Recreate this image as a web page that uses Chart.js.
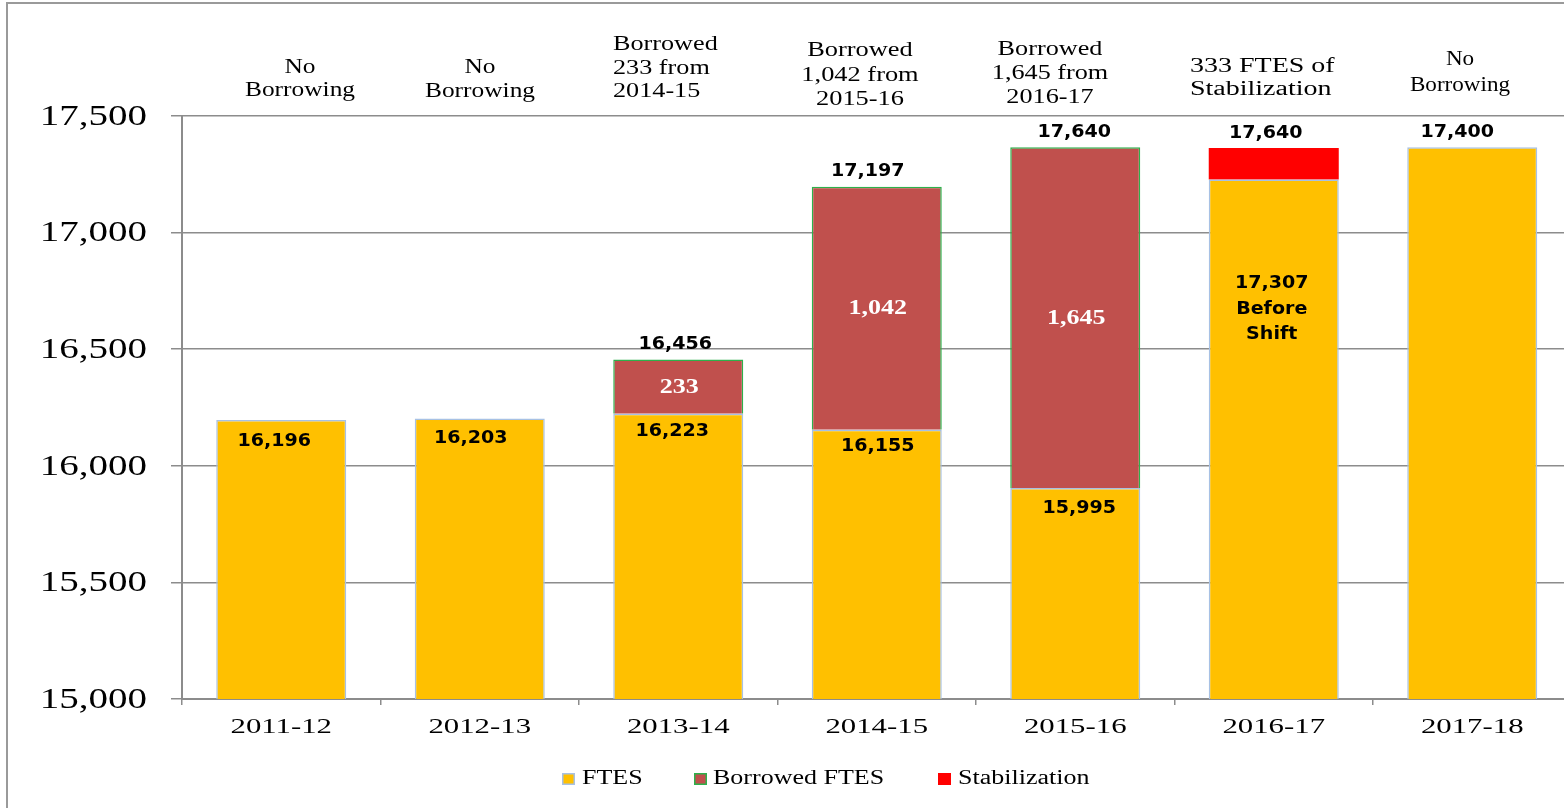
<!DOCTYPE html>
<html>
<head>
<meta charset="utf-8">
<title>FTES and Borrowing</title>
<script src="https://cdn.jsdelivr.net/npm/chart.js@4.4.0/dist/chart.umd.min.js"></script>
<style>
    html, body { margin: 0; padding: 0; background: #fff; overflow: hidden; }
    #wrap { position: relative; width: 1600px; height: 808px; }
</style>
</head>
<body>
<div id="wrap"><canvas id="ftesChart"></canvas></div>
<script>
// ---- data ----
const CATEGORIES = ['2011-12', '2012-13', '2013-14', '2014-15', '2015-16', '2016-17', '2017-18'];
const FTES = [16196, 16203, 16223, 16155, 15905, 17228, 17366];
const BORROWED = [null, null, 233, 1042, 1461, null, null];
const STABILIZATION = [null, null, null, null, null, 135, null];
const Y_TICKS = [15000, 15500, 16000, 16500, 17000, 17500];

const FTES_LABELS = ['16,196', '16,203', '16,223', '16,155', '15,995', '17,307\nBefore\nShift', ''];
const BORROWED_LABELS = ['', '', '233', '1,042', '1,645', '', ''];
const TOTAL_LABELS = ['', '', '16,456', '17,197', '17,640', '17,640', '17,400'];
const NOTES = [
    ['No', 'Borrowing'],
    ['No', 'Borrowing'],
    ['Borrowed', '233 from', '2014-15'],
    ['Borrowed', '1,042 from', '2015-16'],
    ['Borrowed', '1,645 from', '2016-17'],
    ['333 FTES of', 'Stabilization'],
    ['No', 'Borrowing'],
];

// ---- layout tweaks (label nudges, note placement) ----
const FTES_LABEL_DX = [-7, -9, -6, 1, 4, -2, 0];
const FTES_LABEL_DY = [21, 20, 18, 17, 20, 104, 0];
const TOTAL_LABEL_DX = [0, 0, -3, -9, -1, -8, -15];
const NOTE_POS = [
    { x: 300, ys: [68, 91], align: 'center', sx: 1.27, size: 20 },
    { x: 480, ys: [68, 92], align: 'center', sx: 1.27, size: 20 },
    { x: 613, ys: [45, 69, 92], align: 'left', sx: 1.31, size: 20 },
    { x: 860, ys: [51, 76, 100], align: 'center', sx: 1.32, size: 20 },
    { x: 1050, ys: [50, 74, 98], align: 'center', sx: 1.31, size: 20 },
    { x: 1190, ys: [67, 90], align: 'left', sx: 1.4, size: 20 },
    { x: 1460, ys: [59, 85], align: 'center', sx: 1.1, size: 21 },
];

const COLORS = {
    ftes: '#FFC000', ftesBorder: '#A7C1E4',
    borrowed: '#C0504D', borrowedBorder: '#2DB04B',
    stab: '#FF0000',
    grid: '#8c8c8c',
};

const SERIF = '"Liberation Serif", "Times New Roman", serif';
const SANS = '"DejaVu Sans", Verdana, sans-serif';

function drawStretched(ctx, text, x, y, font, color, sx, align) {
    ctx.save();
    ctx.font = font;
    ctx.fillStyle = color;
    ctx.textAlign = align || 'center';
    ctx.textBaseline = 'middle';
    ctx.translate(x, y);
    ctx.scale(sx, 1);
    ctx.fillText(text, 0, 0);
    ctx.restore();
}

const framePlugin = {
    id: 'frame',
    beforeDraw(chart) {
        const ctx = chart.ctx;
        ctx.save();
        ctx.strokeStyle = '#9a9a9a';
        ctx.lineWidth = 2;
        ctx.beginPath();
        ctx.moveTo(7, chart.height);
        ctx.lineTo(7, 3);
        ctx.lineTo(chart.width, 3);
        ctx.stroke();
        ctx.restore();
    }
};

const textPlugin = {
    id: 'texts',
    afterDraw(chart) {
        const ctx = chart.ctx;
        const yScale = chart.scales.y;
        const xScale = chart.scales.x;

        // y tick labels
        Y_TICKS.forEach(v => {
            drawStretched(ctx, v.toLocaleString('en-US'), 147, yScale.getPixelForValue(v) + 1,
                '30px ' + SERIF, '#000', 1.3, 'right');
        });

        // x category labels
        CATEGORIES.forEach((c, i) => {
            drawStretched(ctx, c, xScale.getPixelForValue(i), 727, '22px ' + SERIF, '#000', 1.4, 'center');
        });

        const ftesBars = chart.getDatasetMeta(0).data;
        const borBars = chart.getDatasetMeta(1).data;

        CATEGORIES.forEach((c, i) => {
            const fb = ftesBars[i];
            // FTES labels inside yellow bar
            const lines = FTES_LABELS[i] ? FTES_LABELS[i].split('\n') : [];
            lines.forEach((ln, k) => {
                drawStretched(ctx, ln, fb.x + FTES_LABEL_DX[i], fb.y + FTES_LABEL_DY[i] + k * 25.5,
                    'bold 18px ' + SANS, '#000', 1.06, 'center');
            });
            // borrowed labels
            if (BORROWED_LABELS[i]) {
                const bb = borBars[i];
                drawStretched(ctx, BORROWED_LABELS[i], bb.x + 1, (bb.y + bb.base) / 2 + 1,
                    'bold 20px ' + SERIF, '#fff', 1.3, 'center');
            }
            // totals above stack
            if (TOTAL_LABELS[i]) {
                const total = (FTES[i] || 0) + (BORROWED[i] || 0) + (STABILIZATION[i] || 0);
                drawStretched(ctx, TOTAL_LABELS[i], fb.x + TOTAL_LABEL_DX[i], yScale.getPixelForValue(total) - 15,
                    'bold 18px ' + SANS, '#000', 1.06, 'center');
            }
            // notes above the plot
            const p = NOTE_POS[i];
            NOTES[i].forEach((ln, k) => {
                drawStretched(ctx, ln, p.x, p.ys[k], p.size + 'px ' + SERIF, '#000', p.sx, p.align);
            });
        });

        // legend
        const legend = [
            { text: 'FTES', fill: COLORS.ftes, border: COLORS.ftesBorder, box: 562, tx: 582 },
            { text: 'Borrowed FTES', fill: COLORS.borrowed, border: COLORS.borrowedBorder, box: 694, tx: 713 },
            { text: 'Stabilization', fill: COLORS.stab, border: null, box: 938, tx: 958 },
        ];
        legend.forEach(l => {
            ctx.save();
            ctx.fillStyle = l.fill;
            ctx.fillRect(l.box, 773, 13, 12);
            if (l.border) {
                ctx.strokeStyle = l.border;
                ctx.lineWidth = 1.5;
                ctx.strokeRect(l.box + 0.75, 773.75, 11.5, 10.5);
            }
            ctx.restore();
            drawStretched(ctx, l.text, l.tx, 779, '20px ' + SERIF, '#000', 1.3, 'left');
        });
    }
};

new Chart(document.getElementById('ftesChart'), {
    type: 'bar',
    data: {
        labels: CATEGORIES,
        datasets: [
            {
                label: 'FTES',
                data: FTES,
                backgroundColor: COLORS.ftes,
                borderColor: COLORS.ftesBorder,
                borderWidth: 1.5,
            },
            {
                label: 'Borrowed FTES',
                data: BORROWED,
                backgroundColor: COLORS.borrowed,
                borderColor: COLORS.borrowedBorder,
                borderWidth: 1.5,
            },
            {
                label: 'Stabilization',
                data: STABILIZATION,
                backgroundColor: COLORS.stab,
                borderWidth: 0,
            }
        ]
    },
    options: {
        responsive: true,
        maintainAspectRatio: false,
        animation: false,
        datasets: { bar: { categoryPercentage: 1, barPercentage: 0.655 } },
        layout: { padding: { top: 116, right: 28.5, left: 0, bottom: 0 } },
        plugins: {
            legend: { display: false },
            tooltip: { enabled: false },
        },
        scales: {
            x: {
                stacked: true,
                ticks: { display: false },
                grid: { offset: true, drawOnChartArea: false, drawTicks: true, tickLength: 6, color: COLORS.grid, lineWidth: 1.5 },
                border: { display: true, color: COLORS.grid, width: 2 },
                afterFit: s => { s.height = 109; },
            },
            y: {
                stacked: true,
                min: 15000,
                max: 17500,
                ticks: { display: false, stepSize: 500 },
                grid: { color: COLORS.grid, lineWidth: 1.5, drawTicks: true, tickLength: 11 },
                border: { display: true, color: COLORS.grid, width: 2 },
                afterFit: s => { s.width = 182; },
            }
        }
    },
    plugins: [framePlugin, textPlugin]
});
</script>
</body>
</html>
